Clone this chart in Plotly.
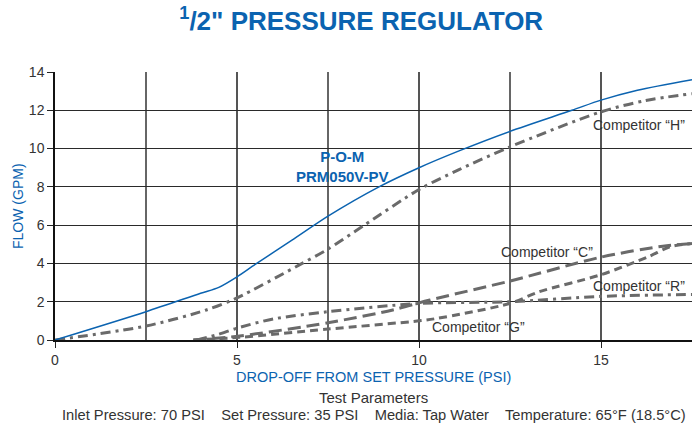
import plotly.graph_objects as go

# ---- data ----
pom_x = [0, 2.5, 4.0, 4.5, 5.0, 5.5, 6.5, 7.5, 8.9, 10.0, 11.1, 12.5, 14.2, 15.0, 16.0, 17.5]
pom_y = [0, 1.48, 2.44, 2.75, 3.3, 3.95, 5.2, 6.47, 8.0, 9.0, 9.88, 10.9, 12.0, 12.53, 13.05, 13.6]

h_x = [0, 2.5, 4.16, 5.0, 6.7, 7.5, 8.5, 10.0, 11.1, 12.5, 15.0, 16.2, 17.5]
h_y = [0, 0.73, 1.57, 2.2, 3.91, 4.75, 6.0, 7.86, 8.9, 10.09, 11.92, 12.5, 12.87]

r_x = [3.9, 4.5, 5.0, 6.0, 7.5, 10.0, 12.5, 15.0, 17.5]
r_y = [0, 0.3, 0.62, 1.1, 1.48, 1.91, 2.0, 2.28, 2.38]

c_x = [3.8, 5.07, 7.5, 9.28, 10.3, 12.5, 15.0, 16.7, 17.5]
c_y = [0, 0.21, 0.9, 1.57, 2.09, 3.08, 4.33, 4.9, 5.04]

g_x = [3.8, 5.07, 7.5, 10.0, 10.5, 12.5, 13.3, 15.0, 16.3, 16.9, 17.5]
g_y = [0, 0.14, 0.57, 1.0, 1.13, 1.91, 2.52, 3.41, 4.35, 4.87, 5.04]

x_ticks = [0, 5, 10, 15]
y_ticks = [0, 2, 4, 6, 8, 10, 12, 14]

BLUE = "#0b63b0"
GREY = "#6a6a6a"
TXT = "#333333"
FONT = "Liberation Sans, Arial, sans-serif"

fig = go.Figure()

def add(x, y, color, width, dash):
    fig.add_trace(go.Scatter(x=x, y=y, mode="lines",
                             line=dict(color=color, width=width, dash=dash,
                                       shape="spline", smoothing=0.8),
                             hoverinfo="skip", showlegend=False, cliponaxis=True))

add(g_x, g_y, GREY, 3, "8px,5px")
add(c_x, c_y, GREY, 3, "13px,6px")
add(r_x, r_y, GREY, 3, "10px,5px,3px,5px")
add(h_x, h_y, GREY, 3, "10px,5px,3px,5px")
add(pom_x, pom_y, BLUE, 1.5, "solid")

labels = [
    (16.05, 11.22, "Competitor “H”"),
    (13.53, 4.58, "Competitor “C”"),
    (16.05, 2.84, "Competitor “R”"),
    (11.63, 0.66, "Competitor “G”"),
]
for x, y, t in labels:
    fig.add_annotation(x=x, y=y, text=t, showarrow=False,
                       font=dict(family=FONT, size=14, color=TXT))

fig.add_annotation(x=7.9, y=9.05, text="<b>P-O-M<br>PRM050V-PV</b>", showarrow=False,
                   font=dict(family=FONT, size=15, color=BLUE))

# axis titles and bottom texts
fig.add_annotation(xref="paper", yref="paper", x=0.5, y=0, yanchor="top", yshift=-27,
                   text="DROP-OFF FROM SET PRESSURE (PSI)", showarrow=False,
                   font=dict(family=FONT, size=14.5, color=BLUE))
fig.add_annotation(xref="paper", yref="paper", x=0.5, y=0, yanchor="top", yshift=-47,
                   text="Test Parameters", showarrow=False,
                   font=dict(family=FONT, size=15, color=TXT))
fig.add_annotation(xref="paper", yref="paper", x=0.5, y=0, yanchor="top", yshift=-65,
                   text="Inlet Pressure: 70 PSI    Set Pressure: 35 PSI    Media: Tap Water    Temperature: 65°F (18.5°C)",
                   showarrow=False, font=dict(family=FONT, size=14.7, color=TXT))
fig.add_annotation(xref="paper", yref="paper", x=-37/637, y=0.5, xanchor="center",
                   text="FLOW (GPM)", textangle=-90, showarrow=False,
                   font=dict(family=FONT, size=14, color=BLUE))

fig.update_layout(
    width=692, height=426,
    margin=dict(l=55, r=0, t=72, b=86),
    paper_bgcolor="white", plot_bgcolor="white",
    title=dict(text="<b><sup>1</sup>/2\" PRESSURE REGULATOR</b>", x=0.522, xanchor="center",
               xref="container", y=0.952, yanchor="middle", yref="container",
               font=dict(family=FONT, size=26, color=BLUE)),
    xaxis=dict(range=[0, 17.5], tickvals=x_ticks, ticktext=[str(v) for v in x_ticks],
               showgrid=True, gridcolor="#555555", gridwidth=1.5,
               minor=dict(dtick=2.5, tick0=0, showgrid=True, gridcolor="#666666", gridwidth=1.5),
               ticks="outside", ticklen=6, tickcolor="#222", tickwidth=1.2,
               showline=True, linecolor="#111", linewidth=1.5, zeroline=False,
               tickfont=dict(family=FONT, size=14, color=TXT)),
    yaxis=dict(range=[0, 14], tickvals=y_ticks,
               showgrid=True, gridcolor="#2a2a2a", gridwidth=1.3,
               ticks="outside", ticklen=6, tickcolor="#222", tickwidth=1.2,
               showline=True, linecolor="#111", linewidth=1.5, zeroline=False,
               tickfont=dict(family=FONT, size=14, color=TXT)),
)

fig.write_html("out.html", config={"displayModeBar": False},
               post_script="document.body.style.margin='0px';document.body.style.overflow='hidden';")
